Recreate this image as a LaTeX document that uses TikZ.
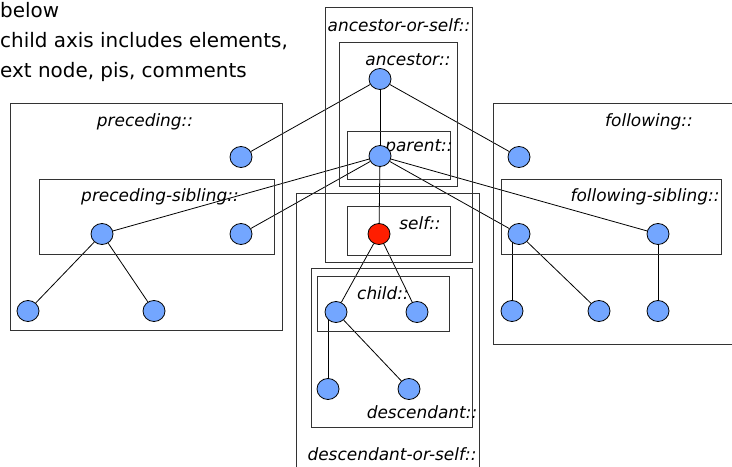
\documentclass[tikz,border=0pt]{standalone}
\usepackage{fontspec}
\setmainfont{DejaVu Sans}
\usetikzlibrary{shapes.geometric}
\definecolor{nodeblue}{RGB}{115,166,255}
\definecolor{nodered}{RGB}{255,30,0}
\pgfdeclarelayer{bg}
\pgfsetlayers{bg,main}
\tikzset{
  axisbox/.style={draw=black!80, line width=0.9bp},
  tnode/.style={ellipse, draw=black, line width=0.8bp, fill=nodeblue, minimum width=22bp, minimum height=21bp, inner sep=0pt},
  selfnode/.style={tnode, fill=nodered},
  axlabel/.style={font=\fontsize{17}{19}\selectfont\itshape, inner sep=0pt},
  headtext/.style={font=\fontsize{20}{24}\selectfont, anchor=base west, inner sep=0pt},
  edge/.style={draw=black, line width=0.8bp}
}
\begin{document}
\begin{tikzpicture}[x=1bp,y=-1bp]
\useasboundingbox (0,0) rectangle (732,467);
% header text
\node[headtext] (h1) at (0,18) {below};
\node[headtext] (h2) at (0,48) {child axis includes elements,};
\node[headtext] (h3) at (0,78) {ext node, pis, comments};
% boxes
\draw[axisbox] (325,7) rectangle (472,262);
\draw[axisbox] (339,42) rectangle (457,186);
\draw[axisbox] (347,131) rectangle (450,179);
\draw[axisbox] (347,206) rectangle (450,255);
\draw[axisbox] (296,193) rectangle (479,480);
\draw[axisbox] (311,268) rectangle (472,427);
\draw[axisbox] (317,276) rectangle (449,331);
\draw[axisbox] (10,103) rectangle (282,330);
\draw[axisbox] (39,179) rectangle (274,254);
\draw[axisbox] (493,103) rectangle (745,344);
\draw[axisbox] (501,179) rectangle (721,254);
% labels
\node[axlabel] (l1) at (399,25) {ancestor-or-self::};
\node[axlabel] (l2) at (408,60) {ancestor::};
\node[axlabel] (l3) at (419,147) {parent::};
\node[axlabel] (l4) at (420,223) {self::};
\node[axlabel] (l5) at (383,293) {child::};
\node[axlabel] (l6) at (422,412) {descendant::};
\node[axlabel] (l7) at (392,454) {descendant-or-self::};
\node[axlabel] (l8) at (145,122) {preceding::};
\node[axlabel] (l9) at (160,197) {preceding-sibling::};
\node[axlabel] (l10) at (649,122) {following::};
\node[axlabel] (l11) at (645,197) {following-sibling::};
% tree nodes
\node[tnode] (anc) at (380,79) {};
\node[tnode] (par) at (380,156) {};
\node[selfnode] (self) at (379,234) {};
\node[tnode] (ch1) at (336,312) {};
\node[tnode] (ch2) at (417,312) {};
\node[tnode] (de1) at (328,389) {};
\node[tnode] (de2) at (409,389) {};
\node[tnode] (prec) at (241,157) {};
\node[tnode] (ps1) at (102,234) {};
\node[tnode] (ps2) at (241,234) {};
\node[tnode] (pc1) at (28,311) {};
\node[tnode] (pc2) at (154,311) {};
\node[tnode] (foll) at (519,157) {};
\node[tnode] (fs1) at (519,234) {};
\node[tnode] (fs2) at (658,234) {};
\node[tnode] (fc1) at (512,311) {};
\node[tnode] (fc2) at (599,311) {};
\node[tnode] (fc3) at (658,311) {};
% connectors
\begin{pgfonlayer}{bg}
\draw[edge] (anc) -- (prec);
\draw[edge] (anc) -- (par);
\draw[edge] (anc) -- (foll);
\draw[edge] (par) -- (ps1);
\draw[edge] (par) -- (ps2);
\draw[edge] (par) -- (self);
\draw[edge] (par) -- (fs1);
\draw[edge] (par) -- (fs2);
\draw[edge] (ps1) -- (pc1);
\draw[edge] (ps1) -- (pc2);
\draw[edge] (self) -- (ch1);
\draw[edge] (self) -- (ch2);
\draw[edge] (ch1) -- (de2);
\draw[edge] (de1) -- (de1 |- ch1);
\draw[edge] (fs1) -- (fc2);
\draw[edge] (fc1) -- (fc1 |- fs1);
\draw[edge] (fs2) -- (fc3);
\end{pgfonlayer}
\end{tikzpicture}
\end{document}
